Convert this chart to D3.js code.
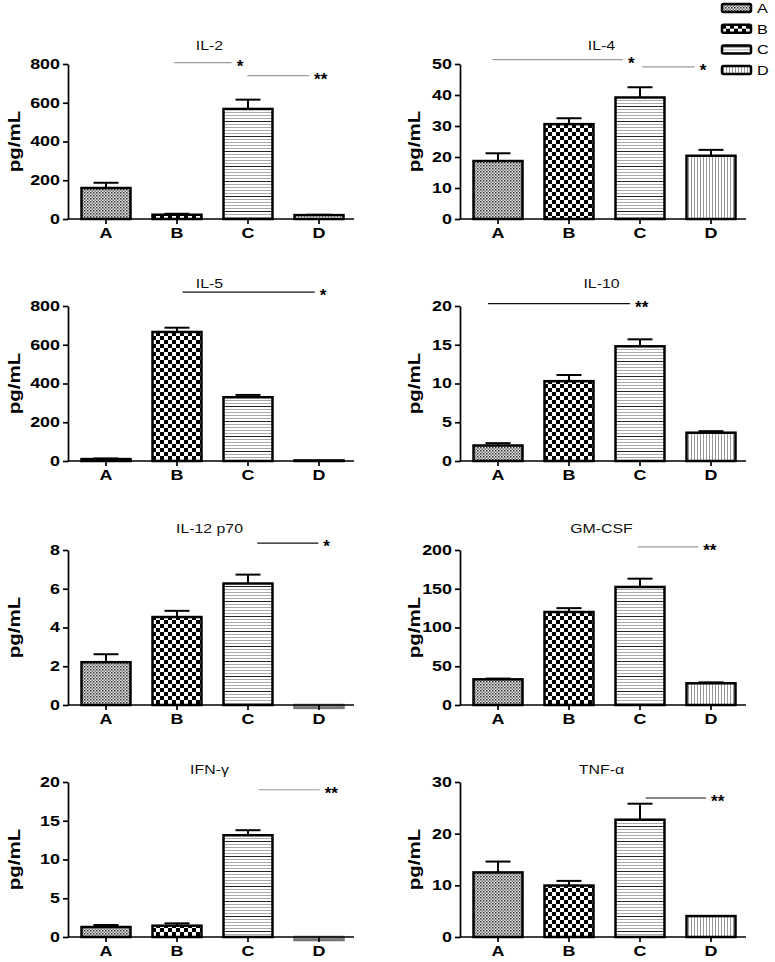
<!DOCTYPE html>
<html>
<head>
<meta charset="utf-8">
<script src="https://cdn.jsdelivr.net/npm/d3@7"></script>
<style>
  body { margin: 0; background: #fff; }
  svg { display: block; font-family: "Liberation Sans", Arial, Helvetica, sans-serif; }
</style>
</head>
<body>
<div id="chart"></div>
<script>
// groups and cytokines
var groups = ["A", "B", "C", "D"];
var cytokines = ["IL-2", "IL-4", "IL-5", "IL-10", "IL-12 p70", "GM-CSF", "IFN-γ", "TNF-α"];

// y axis max and tick step per cytokine
var yMaxes = [800, 50, 800, 20, 8, 200, 20, 30];
var yTickSteps = [200, 10, 200, 5, 2, 50, 5, 10];

// mean pg/mL per group (A, B, C, D)
var means = [
	[160, 22, 568, 20],
	[18.7, 30.6, 39.2, 20.4],
	[10, 666, 329, 3],
	[2.0, 10.3, 14.8, 3.65],
	[2.21, 4.54, 6.27, -0.15],
	[33.1, 120, 152.3, 28],
	[1.29, 1.46, 13.13, -0.39],
	[12.5, 9.96, 22.7, 4.05]
];

// SEM per group
var sems = [
	[27, 5, 48, 2],
	[2.5, 1.9, 3.3, 1.9],
	[3, 22, 12, 0],
	[0.3, 0.8, 0.9, 0.2],
	[0.41, 0.32, 0.46, 0],
	[1, 5, 10.7, 1.2],
	[0.26, 0.3, 0.65, 0],
	[2.1, 0.9, 3.1, 0]
];

// significance lines: from/to in group-index units, y in data units
var sigLines = [
	[{from: 0.96, to: 1.77, y: 807, mark: "*"}, {from: 1.99, to: 2.86, y: 740, mark: "**"}],
	[{from: -0.08, to: 1.76, y: 51.4, mark: "*"}, {from: 2.03, to: 2.77, y: 49.1, mark: "*"}],
	[{from: 1.08, to: 2.94, y: 872, mark: "*"}],
	[{from: -0.14, to: 1.86, y: 20.3, mark: "**"}],
	[{from: 2.13, to: 2.99, y: 8.36, mark: "*"}],
	[{from: 1.97, to: 2.82, y: 204, mark: "**"}],
	[{from: 2.15, to: 3.01, y: 19.0, mark: "**"}],
	[{from: 2.08, to: 2.93, y: 26.9, mark: "**"}]
];

// line shade per panel (some of the comparison lines are light grey)
var sigShade = ["#9a9a9a", "#9a9a9a", "#111", "#111", "#111", "#9a9a9a", "#9a9a9a", "#111"];

// layout
var width = 775, height = 962;
var colAxisX = [68, 460],
	colFirstCenter = [106, 498],
	colLabelX = [14, 414],
	rowTop = [64, 306, 550, 782],
	rowTitleY = [50, 288, 533, 774],
	plotH = 155,
	step = 71,
	axisLen = 286,
	stretch = 1.28;

var svg = d3.select("#chart").append("svg")
	.attr("width", width)
	.attr("height", height);

svg.append("rect").attr("width", width).attr("height", height).attr("fill", "#fff");

// fill patterns for the four groups
var defs = svg.append("defs");

var pA = defs.append("pattern").attr("id", "pat-A")
	.attr("patternUnits", "userSpaceOnUse").attr("width", 3).attr("height", 3);
pA.append("rect").attr("width", 3).attr("height", 3).attr("fill", "#e4e4e4");
pA.append("rect").attr("width", 1.5).attr("height", 1.5).attr("fill", "#333");
pA.append("rect").attr("x", 1.5).attr("y", 1.5).attr("width", 1.5).attr("height", 1.5).attr("fill", "#777");

var pB = defs.append("pattern").attr("id", "pat-B")
	.attr("patternUnits", "userSpaceOnUse").attr("width", 8).attr("height", 8);
pB.append("rect").attr("width", 8).attr("height", 8).attr("fill", "#fff");
pB.append("rect").attr("width", 4).attr("height", 4).attr("fill", "#000");
pB.append("rect").attr("x", 4).attr("y", 4).attr("width", 4).attr("height", 4).attr("fill", "#000");

var pC = defs.append("pattern").attr("id", "pat-C")
	.attr("patternUnits", "userSpaceOnUse").attr("width", 6).attr("height", 15);
pC.append("rect").attr("width", 6).attr("height", 15).attr("fill", "#fff");
[1, 4, 7, 10, 13].forEach(function(yy, i) {
	pC.append("rect").attr("y", yy).attr("width", 6).attr("height", 1)
		.attr("fill", i === 0 ? "#222" : "#aaa");
});

var pD = defs.append("pattern").attr("id", "pat-D")
	.attr("patternUnits", "userSpaceOnUse").attr("width", 3).attr("height", 6);
pD.append("rect").attr("width", 3).attr("height", 6).attr("fill", "#fff");
pD.append("rect").attr("x", 1).attr("width", 1).attr("height", 6).attr("fill", "#999");

cytokines.forEach(function(name, p) {
	var col = p % 2,
		row = Math.floor(p / 2),
		ax = colAxisX[col],
		top = rowTop[row],
		bottom = top + plotH;

	var g = svg.append("g").attr("class", "panel");

	var x = d3.scaleBand()
		.domain(groups)
		.range([colFirstCenter[col] - step / 2, colFirstCenter[col] - step / 2 + step * groups.length])
		.paddingInner(0.31)
		.paddingOuter(0.155);

	var y = d3.scaleLinear()
		.domain([0, yMaxes[p]])
		.range([bottom, top]);

	var center = function(idx) {
		return x(groups[0]) + x.bandwidth() / 2 + idx * x.step();
	};

	// y axis
	var yAxis = g.append("g")
		.attr("transform", "translate(" + ax + ",0)")
		.call(d3.axisLeft(y)
			.tickValues(d3.range(0, yMaxes[p] + yTickSteps[p] / 2, yTickSteps[p]))
			.tickSize(5)
			.tickSizeOuter(0));
	yAxis.select(".domain").attr("stroke", "#000").attr("stroke-width", 1.7);
	yAxis.selectAll(".tick line").attr("stroke", "#000").attr("stroke-width", 1.7);
	yAxis.selectAll(".tick text")
		.attr("x", -8 / stretch)
		.attr("transform", "scale(" + stretch + ",1)")
		.attr("font-size", "14px")
		.attr("font-weight", "bold")
		.attr("fill", "#000");

	// bars
	g.selectAll(".bar")
		.data(groups)
		.enter()
		.append("rect")
		.attr("class", "bar")
		.attr("x", function(d) { return x(d); })
		.attr("width", x.bandwidth())
		.attr("y", function(d, i) { return y(Math.max(0, means[p][i])); })
		.attr("height", function(d, i) { return Math.abs(y(means[p][i]) - y(0)); })
		.attr("fill", function(d, i) { return means[p][i] < 0 ? "#a0a0a0" : "url(#pat-" + d + ")"; })
		.attr("stroke", function(d, i) { return means[p][i] < 0 ? "#777" : "#000"; })
		.attr("stroke-width", 2.5);

	// error bars (upper only)
	var err = g.selectAll(".err")
		.data(groups.filter(function(d, i) { return sems[p][i] > 0; }))
		.enter()
		.append("g")
		.attr("class", "err");
	err.append("line")
		.attr("x1", function(d) { return x(d) + x.bandwidth() / 2; })
		.attr("x2", function(d) { return x(d) + x.bandwidth() / 2; })
		.attr("y1", function(d) { var i = groups.indexOf(d); return y(means[p][i]); })
		.attr("y2", function(d) { var i = groups.indexOf(d); return y(means[p][i] + sems[p][i]); })
		.attr("stroke", "#000")
		.attr("stroke-width", 2);
	err.append("line")
		.attr("x1", function(d) { return x(d) + x.bandwidth() / 2 - 12.5; })
		.attr("x2", function(d) { return x(d) + x.bandwidth() / 2 + 12.5; })
		.attr("y1", function(d) { var i = groups.indexOf(d); return y(means[p][i] + sems[p][i]); })
		.attr("y2", function(d) { var i = groups.indexOf(d); return y(means[p][i] + sems[p][i]); })
		.attr("stroke", "#000")
		.attr("stroke-width", 2);

	// x axis
	var xAxis = g.append("g")
		.attr("transform", "translate(0," + bottom + ")")
		.call(d3.axisBottom(x).tickSize(5).tickSizeOuter(0).tickPadding(4));
	xAxis.select(".domain").remove();
	xAxis.append("line")
		.attr("x1", ax).attr("x2", ax + axisLen)
		.attr("stroke", "#000").attr("stroke-width", 1.7);
	xAxis.selectAll(".tick line").attr("stroke", "#000").attr("stroke-width", 1.7);
	xAxis.selectAll(".tick text")
		.attr("transform", "scale(" + stretch + ",1)")
		.attr("font-size", "14px")
		.attr("font-weight", "bold")
		.attr("fill", "#000");

	// title
	g.append("text")
		.attr("transform", "translate(" + (center(1.5) - 3) + "," + rowTitleY[row] + ") scale(1.22,1)")
		.attr("text-anchor", "middle")
		.attr("font-size", "13px")
		.attr("fill", "#111")
		.text(name);

	// y label
	g.append("text")
		.attr("transform", "translate(" + colLabelX[col] + "," + (top + plotH / 2) + ") rotate(-90) scale(" + stretch + ",1)")
		.attr("text-anchor", "middle")
		.attr("dominant-baseline", "central")
		.attr("font-size", "16px")
		.attr("font-weight", "bold")
		.attr("fill", "#000")
		.text("pg/mL");

	// significance lines
	sigLines[p].forEach(function(s) {
		g.append("line")
			.attr("x1", center(s.from)).attr("x2", center(s.to))
			.attr("y1", y(s.y)).attr("y2", y(s.y))
			.attr("stroke", sigShade[p])
			.attr("stroke-width", 1.2);
		g.append("text")
			.attr("x", center(s.to) + 5)
			.attr("y", y(s.y) + 9)
			.attr("font-size", "17px")
			.attr("font-weight", "bold")
			.attr("fill", "#000")
			.text(s.mark);
	});
});

// legend
var legend = svg.append("g").attr("class", "legend");
var item = legend.selectAll(".item")
	.data(groups)
	.enter()
	.append("g")
	.attr("class", "item")
	.attr("transform", function(d, i) { return "translate(722," + (4 + i * 20.7) + ")"; });
item.append("rect")
	.attr("width", 29)
	.attr("height", 8)
	.attr("rx", 1.5)
	.attr("fill", function(d) { return "url(#pat-" + d + ")"; })
	.attr("stroke", "#000")
	.attr("stroke-width", 2.5);
item.append("text")
	.attr("transform", "translate(35,9) scale(1.25,1)")
	.attr("font-size", "13px")
	.attr("fill", "#000")
	.text(function(d) { return d; });
</script>
</body>
</html>
